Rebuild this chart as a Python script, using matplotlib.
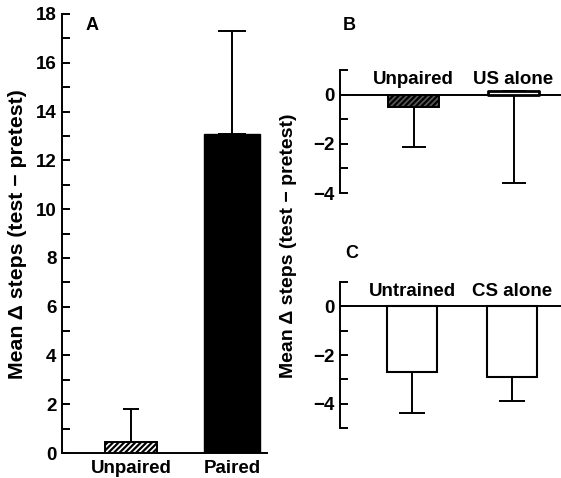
# Three-panel bar chart: mean change in steps (test - pretest) for several training groups
import matplotlib.pyplot as plt
import numpy as np

plt.rcParams['font.family'] = ['Liberation Sans', 'DejaVu Sans']
plt.rcParams['font.weight'] = 'bold'
plt.rcParams['hatch.linewidth'] = 1.6

# panel A
a_groups = ["Unpaired", "Paired"]
a_means = [0.45, 13.1]
a_err = [1.35, 4.2]          # upper error only

# panel B
b_groups = ["Unpaired", "US alone"]
b_means = [-0.5, 0.15]
b_err = [1.65, 3.75]         # lower error only

# panel C
c_groups = ["Untrained", "CS alone"]
c_means = [-2.7, -2.9]
c_err = [1.7, 1.0]           # lower error only

ylab = "Mean \u0394 steps (test \u2212 pretest)"

W, H = 561, 478
fig = plt.figure(figsize=(W / 100, H / 100), dpi=100)


def px_axes(left, top, right, bottom):
    return fig.add_axes([left / W, 1 - bottom / H, (right - left) / W, (bottom - top) / H])


def style_axis(ax, lo, hi, labelled):
    for s in ["top", "right", "bottom"]:
        ax.spines[s].set_visible(False)
    ax.spines["left"].set_linewidth(1.4)
    ax.set_ylim(lo, hi)
    ax.set_yticks(labelled)
    ax.set_yticks(np.arange(lo, hi + 1, 1), minor=True)
    ax.tick_params(axis="y", which="both", direction="in", length=6, width=1.4,
                   labelsize=13.5, pad=4)


# ---- A ----
axA = px_axes(62, 14, 267, 453)
x = np.arange(len(a_groups))
axA.bar(x[0], a_means[0], 0.52, facecolor="white", edgecolor="black",
        hatch="//////", linewidth=1.4, zorder=3)
axA.bar(x[1], a_means[1], 0.56, facecolor="black", edgecolor="black", zorder=3)
axA.errorbar(x[0], a_means[0], yerr=[[0], [a_err[0]]], fmt="none", ecolor="black",
             elinewidth=1.4, capsize=5.5, capthick=1.4, zorder=2)
axA.errorbar(x[1], a_means[1], yerr=[[0], [a_err[1]]], fmt="none", ecolor="black",
             elinewidth=1.4, capsize=10, capthick=1.4, zorder=2)
style_axis(axA, 0, 18, np.arange(0, 19, 2))
axA.spines["bottom"].set_visible(True)
axA.spines["bottom"].set_linewidth(1.4)
axA.set_xlim(-0.69, 1.35)
axA.set_xticks(x)
axA.set_xticklabels(a_groups)
axA.tick_params(axis="x", length=0, labelsize=13.5, pad=5)
fig.text(92 / W, 1 - 25 / H, "A", ha="center", va="center", fontsize=13)
fig.text(18 / W, 1 - 234 / H, ylab, rotation=90, ha="center", va="center", fontsize=15.3)

# ---- B ----
axB = px_axes(340, 70, 561, 193)
xb = np.arange(len(b_groups))
axB.bar(xb[0], b_means[0], 0.51, facecolor="0.35", edgecolor="black",
        hatch="//////", linewidth=1.4, zorder=3)
axB.bar(xb[1], b_means[1], 0.51, facecolor="white", edgecolor="black",
        linewidth=2.0, joinstyle="round", zorder=3)
axB.errorbar(xb, b_means, yerr=[b_err, [0, 0]], fmt="none", ecolor="black",
             elinewidth=1.4, capsize=8.5, capthick=1.4, zorder=2)
axB.axhline(0, color="black", linewidth=1.4, zorder=2.5)
style_axis(axB, -4, 1, np.arange(-4, 1, 2))
axB.set_xlim(-0.735, 1.475)
axB.set_xticks([])
for xi, g in zip(xb, b_groups):
    axB.text(xi, 0.62, g, ha="center", va="center", fontsize=13.5)
fig.text(349 / W, 1 - 26 / H, "B", ha="center", va="center", fontsize=13)

# ---- C ----
axC = px_axes(340, 282, 561, 428)
xc = np.arange(len(c_groups))
axC.bar(xc, c_means, 0.5, facecolor="white", edgecolor="black", linewidth=1.5, zorder=3)
axC.errorbar(xc, c_means, yerr=[c_err, [0, 0]], fmt="none", ecolor="black",
             elinewidth=1.4, capsize=9.5, capthick=1.4, zorder=2)
axC.axhline(0, color="black", linewidth=1.4, zorder=2.5)
style_axis(axC, -5, 1, np.arange(-4, 1, 2))
axC.set_xlim(-0.72, 1.49)
axC.set_xticks([])
for xi, g in zip(xc, c_groups):
    axC.text(xi, 0.62, g, ha="center", va="center", fontsize=13.5)
fig.text(352 / W, 1 - 253 / H, "C", ha="center", va="center", fontsize=13)
fig.text(288 / W, 1 - 246 / H, ylab, rotation=90, ha="center", va="center", fontsize=14)

fig.savefig("out.png", dpi=100)
